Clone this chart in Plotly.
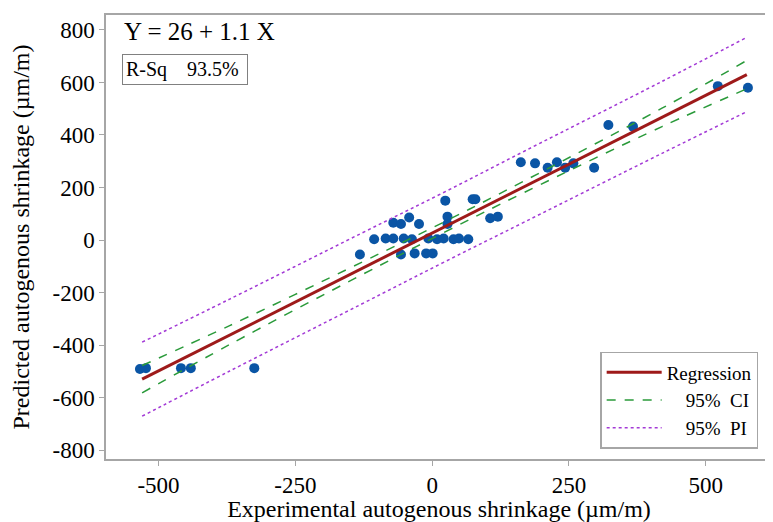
import plotly.graph_objects as go

# Observed data (experimental vs predicted autogenous shrinkage, µm/m)
exp_x = [-534, -523, -459, -441, -325,
         -132, -106, -85, -71, -71, -57, -57, -52, -42, -37, -24, -32, -11, 1,
         -7, 9, 21, 24, 28, 28, 39, 49, 66, 74, 79, 106, 120, 162, 188,
         211, 228, 243, 258, 296, 322, 367, 522, 577]
pred_y = [-491, -488, -488, -488, -488,
          -55, 3, 6, 66, 6, 61, -55, 6, 86, 3, 61, -51, -51, -51,
          6, 3, 6, 150, 89, 61, 3, 6, 3, 155, 155, 83, 89, 296, 292,
          275, 296, 275, 292, 275, 438, 432, 586, 580]

# Fitted lines at several X positions
fit_x = [-530, -370, -130, 20, 170, 420, 575]
reg_y = [-530, -362, -110, 47, 205, 467, 630]
ci_upper = [-478, -326, -86, 67, 227, 502, 684]
ci_lower = [-582, -398, -134, 27, 183, 432, 576]
pi_upper = [-389, -225, 25, 180, 340, 604, 772]
pi_lower = [-671, -499, -245, -86, 70, 330, 489]

x_ticks = [-500, -250, 0, 250, 500]
y_ticks = [-800, -600, -400, -200, 0, 200, 400, 600, 800]

FONT = "Liberation Serif, Times New Roman, serif"

fig = go.Figure()
fig.add_trace(go.Scatter(x=exp_x, y=pred_y, mode="markers",
                         marker=dict(color="#0a55a5", size=10),
                         showlegend=False))
fig.add_trace(go.Scatter(x=fit_x, y=reg_y, mode="lines", name="Regression",
                         line=dict(color="#9e1a1a", width=3)))
fig.add_trace(go.Scatter(x=fit_x, y=ci_upper, mode="lines",
                         name="\u00a0" * 4 + "95%\u00a0 CI",
                         line=dict(color="#2a9a3a", width=1.5, dash="dash", shape="spline")))
fig.add_trace(go.Scatter(x=fit_x, y=ci_lower, mode="lines", showlegend=False,
                         line=dict(color="#2a9a3a", width=1.5, dash="dash", shape="spline")))
fig.add_trace(go.Scatter(x=fit_x, y=pi_upper, mode="lines",
                         name="\u00a0" * 4 + "95%\u00a0 PI",
                         line=dict(color="#a33ad6", width=1.5, dash="dot", shape="spline")))
fig.add_trace(go.Scatter(x=fit_x, y=pi_lower, mode="lines", showlegend=False,
                         line=dict(color="#a33ad6", width=1.5, dash="dot", shape="spline")))

axis_common = dict(showgrid=False, zeroline=False, showline=True, linecolor="#a6a6a6",
                   linewidth=1.5, mirror=True, ticks="outside", tickcolor="#a6a6a6",
                   ticklen=5, automargin=False,
                   tickfont=dict(family=FONT, size=23, color="black"))

fig.update_xaxes(range=[-596, 621], tickvals=x_ticks, ticktext=[str(v) for v in x_ticks],
                 title=dict(text="Experimental autogenous shrinkage (µm/m)",
                            font=dict(family=FONT, size=24, color="black"), standoff=6),
                 **axis_common)
fig.update_yaxes(range=[-834, 857], tickvals=y_ticks, ticktext=[str(v) for v in y_ticks],
                 title=dict(text="Predicted autogenous shrinkage (µm/m)",
                            font=dict(family=FONT, size=24, color="black"), standoff=17),
                 **axis_common)

fig.add_annotation(x=0.024, y=0.962, xref="paper", yref="paper", xanchor="left", yanchor="middle",
                   text="Y = 26 + 1.1 X", showarrow=False,
                   font=dict(family=FONT, size=25, color="black"))
fig.add_annotation(x=0.024, y=0.878, xref="paper", yref="paper", xanchor="left", yanchor="middle",
                   text="R-Sq\u00a0\u00a0\u00a0 93.5%\u00a0", showarrow=False,
                   bordercolor="#808080", borderwidth=1,
                   borderpad=3, font=dict(family=FONT, size=20, color="black"))

# The page adds an 8 px body margin, so the figure is sized 8 px smaller.
fig.update_layout(
    width=765, height=514,
    margin=dict(l=98, r=1, t=7, b=63),
    paper_bgcolor="white", plot_bgcolor="white",
    font=dict(family=FONT, color="black"),
    legend=dict(x=0.742, y=0.241, xanchor="left", yanchor="top",
                bordercolor="#a6a6a6", borderwidth=1.5, bgcolor="white",
                font=dict(family=FONT, size=19, color="black"),
                itemwidth=55, tracegroupgap=0),
)

fig.write_html("out.html")
